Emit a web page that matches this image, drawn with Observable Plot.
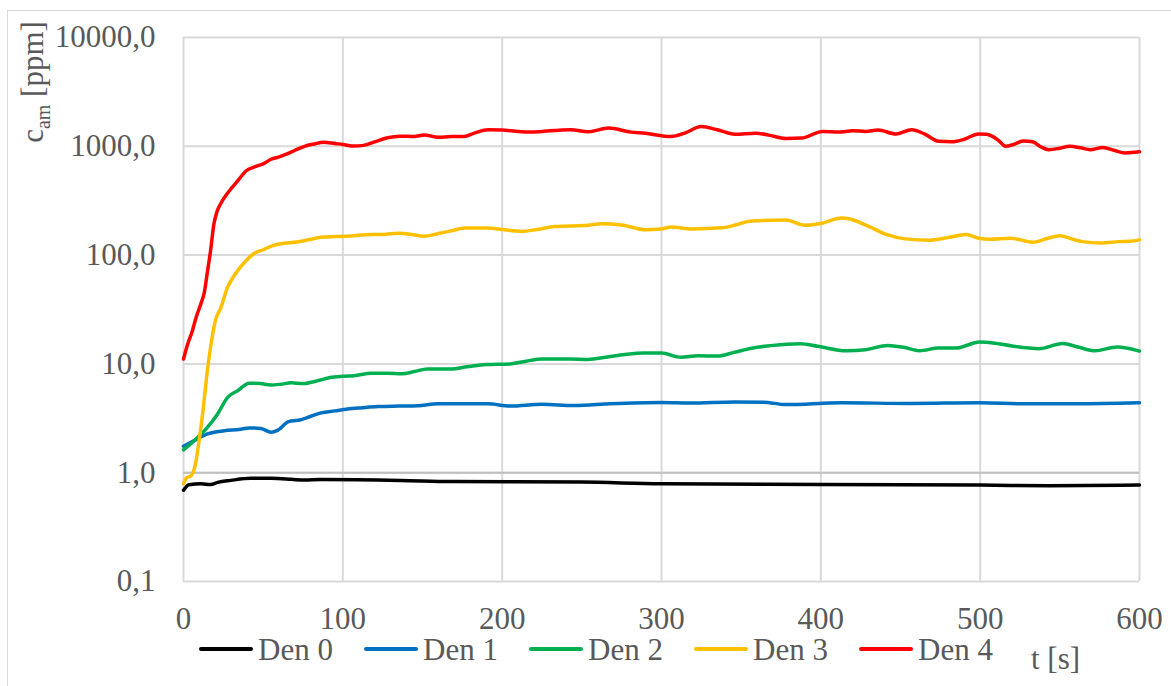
<!DOCTYPE html>
<html>
<head>
<meta charset="utf-8">
<script src="https://cdn.jsdelivr.net/npm/d3@7"></script>
<script src="https://cdn.jsdelivr.net/npm/@observablehq/plot@0.6"></script>
<style>
  body { margin: 0; background: #fff; font-family: "Times New Roman", "Liberation Serif", Tinos, "DejaVu Serif", serif; }
  #chart { position: relative; width: 1171px; height: 686px; overflow: hidden; }
  #frame { position: absolute; left: 7px; top: 10px; width: 1300px; height: 800px;
           border: 1.5px solid #d9d9d9; box-sizing: border-box; pointer-events: none; }
  #plot svg { display: block; }
  #legend { position: relative; height: 54px; color: #595959; font-size: 31px; line-height: 28px; }
  #legend .swatch { position: absolute; top: 15px; width: 54px; height: 4px; border-radius: 2px; }
  #legend .label { position: absolute; top: 4px; white-space: nowrap; }
  #legend .axis-label { position: absolute; top: 13px; left: 1031px; white-space: nowrap; }
</style>
</head>
<body>
<div id="chart">
  <div id="frame"></div>
  <div id="plot"></div>
  <div id="legend"></div>
</div>
<script>
// Ammonia concentration c_am [ppm] over time t [s] for each density level
const seriesNames = ["Den 0", "Den 1", "Den 2", "Den 3", "Den 4"];
const seriesColors = ["#000000", "#0070c0", "#00b050", "#ffc000", "#ff0000"];

const den0 = [[0,0.69],[3.5,0.776],[11,0.79],[17,0.78],[21.4,0.815],[29.7,0.85],[42.3,0.887],[55,0.887],
  [67.6,0.87],[76,0.855],[86.4,0.865],[136,0.85],[168,0.83],[250,0.82],[300,0.79],[400,0.78],[500,0.77],
  [543,0.76],[600,0.77]];

const den1 = [[0,1.75],[6.7,1.97],[15,2.27],[25.6,2.43],[35,2.5],[41.3,2.58],[48.6,2.55],[55,2.35],[59,2.45],
  [66,2.95],[72,3.03],[80,3.3],[86.4,3.55],[95,3.7],[103,3.85],[112,3.95],[122,4.05],[135,4.1],[147,4.13],
  [160,4.3],[175,4.3],[191,4.3],[205,4.1],[225,4.25],[245,4.14],[268,4.3],[300,4.42],[318,4.37],[346,4.47],
  [364,4.45],[378,4.23],[413,4.39],[456,4.33],[500,4.4],[528,4.3],[560,4.3],[600,4.39]];

const den2 = [[0,1.62],[6.7,1.97],[15,2.61],[21.4,3.47],[27.7,4.93],[34,5.67],[41.3,6.64],[48,6.6],[55,6.4],
  [61,6.5],[67.5,6.7],[75,6.6],[84,7.0],[92,7.5],[100,7.7],[107,7.8],[118,8.2],[128,8.2],[137,8.1],[145,8.5],
  [153,9.0],[168,9.0],[178,9.4],[190,9.86],[205,10.0],[215,10.6],[225,11.1],[243,11.1],[254,11.0],[265,11.5],
  [277,12.2],[289,12.6],[300,12.6],[312,11.5],[323,11.9],[335,11.8],[345,12.7],[355,13.8],[370,14.8],
  [387,15.3],[398,14.5],[416,13.2],[428,13.5],[442,14.8],[452,14.2],[462,13.2],[474,14.0],[485,14.0],
  [499.6,15.9],[508,15.6],[520,14.6],[537,13.8],[551.6,15.4],[562,14.2],[572,13.2],[586,14.3],[600,13.1]];

const den3 = [[0,0.79],[2,0.9],[4.5,0.93],[7.5,1.2],[9.8,1.97],[12,3.47],[15,8.7],[18,17.6],[20,25],
  [23.5,33],[27.5,50],[31,62],[34,72],[39,88],[44,103],[50,112],[56,122],[61,127],[71,132],[80,140],
  [86,146],[95,148],[103,149],[114,154],[125,155],[135,159],[143,155],[151,149],[160,158],[168,167],
  [176.5,177],[191,177],[200,172],[212,165],[222,172],[233,183],[254,188],[262,194],[275,189],[290,171],
  [300,174],[306,181],[319,174],[338,178],[347,190],[355,205],[378,210],[390,188],[400,195],[413,219],
  [418,215],[428,190],[441,155],[453,141],[468,137],[480,145],[491,155],[500,142],[506,140],[519,143],
  [533,131.5],[542,142],[550,151],[558,140],[564,133],[576,129],[587,133],[594,134],[600,138]];

const den4 = [[0,11.1],[2.5,15],[5.5,20],[8,27],[11,36],[13,45],[15,70],[17,110],[19,190],[21,250],
  [23.5,300],[27,360],[30,410],[34,480],[39,590],[45,650],[50,690],[55,760],[60,800],[65,850],[70,920],
  [76,1000],[82,1050],[88,1090],[95,1060],[100,1040],[107,1005],[113,1020],[120,1100],[128,1200],
  [136,1240],[145,1230],[151,1270],[160,1210],[168,1230],[176,1230],[183,1330],[191,1420],[200,1410],
  [216,1350],[233,1400],[243,1420],[254,1360],[267,1470],[281,1350],[290,1320],[300,1250],[306,1230],
  [315,1330],[325,1520],[335,1420],[346,1290],[359,1320],[368,1260],[378,1180],[388,1190],[401,1370],
  [411,1350],[420,1390],[428,1370],[436,1410],[447,1300],[457,1420],[465,1300],[474,1110],[482,1100],
  [490,1160],[499,1300],[504,1290],[511,1150],[516,1000],[521,1040],[527,1120],[533,1100],[538,990],
  [543,930],[550,960],[556,1000],[563,970],[569,930],[577,975],[584,920],[591,870],[600,890]];

const xTicks = [0, 100, 200, 300, 400, 500, 600];
const yTicks = [0.1, 1, 10, 100, 1000, 10000];

const seriesData = [den0, den1, den2, den3, den4];
const rows = seriesData.flatMap((pts, i) => pts.map(([t, v]) => ({t, v, name: seriesNames[i]})));

// decimal comma with one decimal place
const fmt = d => d.toFixed(1).replace(".", ",");
const grid = "#d9d9d9";
const serif = "'Times New Roman', 'Liberation Serif', Tinos, 'DejaVu Serif', serif";

const plot = Plot.plot({
  width: 1171,
  height: 632,
  marginLeft: 183,
  marginRight: 32,
  marginTop: 37,
  marginBottom: 51,
  style: {fontFamily: serif, fontSize: "31px", color: "#595959", background: "transparent", overflow: "visible"},
  x: {domain: [0, 600]},
  y: {type: "log", domain: [0.1, 10000]},
  color: {domain: seriesNames, range: seriesColors},
  marks: [
    Plot.gridX(xTicks, {stroke: grid, strokeOpacity: 1, strokeWidth: 2}),
    Plot.gridY(yTicks, {stroke: grid, strokeOpacity: 1, strokeWidth: 2}),
    Plot.ruleY([1], {stroke: "#bfbfbf", strokeWidth: 2}),
    Plot.line(rows, {x: "t", y: "v", z: "name", stroke: "name", strokeWidth: 3.5, curve: "monotone-x"}),
    Plot.axisX(xTicks, {tickSize: 0, tickPadding: 25, label: null, fontSize: 31}),
    Plot.axisY(yTicks, {tickSize: 0, tickPadding: 28, tickFormat: fmt, label: null, fontSize: 31})
  ]
});

// rotated y-axis title with subscript
const yTitle = d3.select(plot).append("text")
  .attr("transform", "translate(43,82) rotate(-90)")
  .attr("text-anchor", "middle")
  .attr("fill", "#595959")
  .attr("font-family", serif)
  .attr("font-size", 31);
yTitle.append("tspan").text("c");
yTitle.append("tspan").attr("font-size", 20).attr("dy", 7).text("am");
yTitle.append("tspan").attr("dy", -7).text(" [ppm]");

document.getElementById("plot").appendChild(plot);

// legend row and x-axis title below the plot
const legend = d3.select("#legend");
const itemLeft = [199, 364, 529, 694, 859];
seriesNames.forEach((name, i) => {
  legend.append("div").attr("class", "swatch")
    .style("left", itemLeft[i] + "px").style("background", seriesColors[i]);
  legend.append("div").attr("class", "label")
    .style("left", (itemLeft[i] + 59) + "px").text(name);
});
legend.append("div").attr("class", "axis-label").text("t [s]");
</script>
</body>
</html>
